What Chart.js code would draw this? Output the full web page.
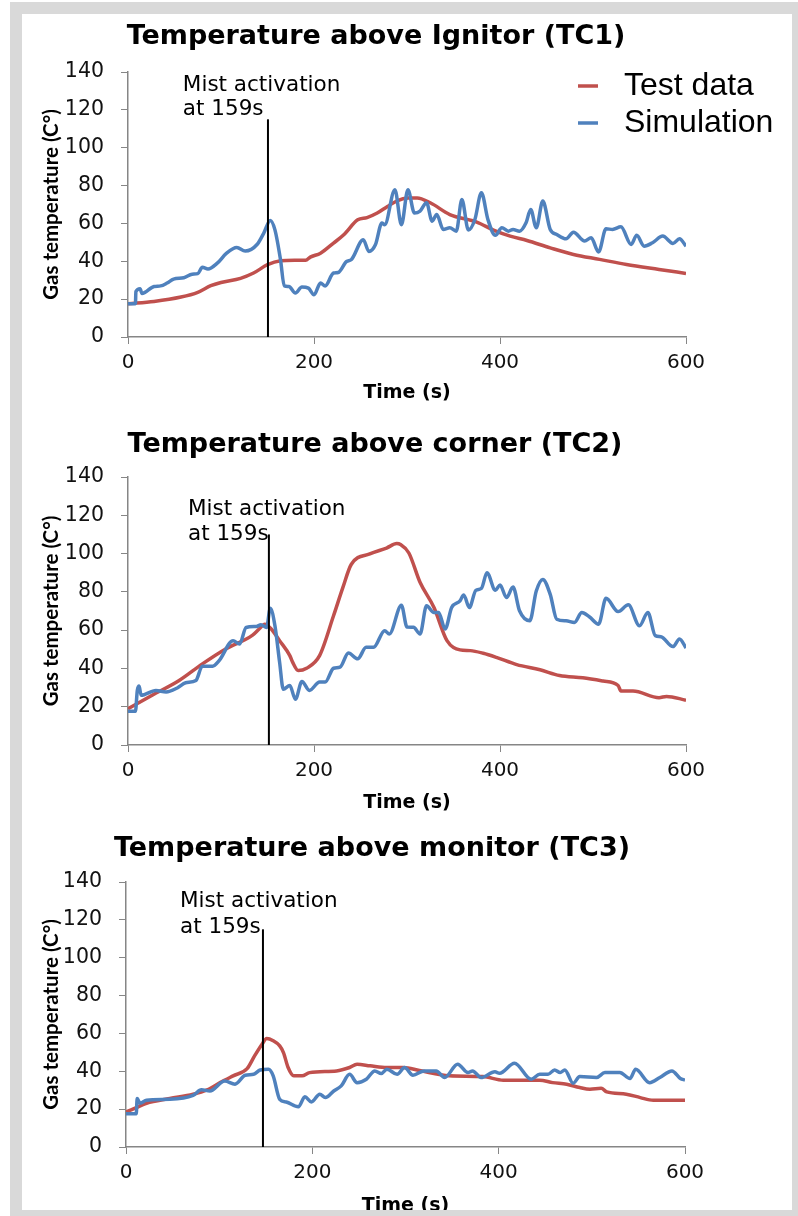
<!DOCTYPE html>
<html><head><meta charset="utf-8">
<script src="https://cdn.jsdelivr.net/npm/chart.js@4.4.1/dist/chart.umd.min.js"></script>
<style>
html,body{margin:0;padding:0;background:#fff;width:798px;height:1216px;overflow:hidden;}
#frame{position:absolute;left:10px;top:2px;width:788px;height:1214px;background:#d9d9d9;}
#inner{position:absolute;left:22px;top:14px;width:770px;height:1196px;background:#fff;overflow:hidden;}
canvas{position:absolute;left:0;}
</style></head>
<body>
<div id="frame"></div>
<div id="inner">
  <canvas id="c1" width="770" height="393" style="top:0px"></canvas>
  <canvas id="c2" width="770" height="407" style="top:396px"></canvas>
  <canvas id="c3" width="770" height="402" style="top:804px"></canvas>
</div>
<script>
// ---------- DATA ----------
const seriesNames = ['Test data', 'Simulation'];
const xTicks = [0, 200, 400, 600];
const yTicks = [0, 20, 40, 60, 80, 100, 120, 140];

// TC1 - Temperature above Ignitor
const tc1TestTime = [0, 28, 57, 75, 89, 100, 121, 135, 150, 164, 179, 191, 196, 207, 221, 232, 247, 257, 268, 279, 290, 301, 311, 325, 346, 375, 393, 411, 429, 454, 479, 507, 536, 571, 600];
const tc1TestTemp = [17.6, 18.8, 21.1, 23.6, 27.1, 28.8, 31.0, 33.8, 38.2, 40.3, 40.6, 40.5, 42.2, 44.3, 49.6, 54.0, 61.9, 63.1, 65.5, 69.0, 72.1, 73.4, 73.5, 70.9, 64.7, 60.7, 56.5, 53.3, 51.0, 47.1, 43.6, 41.0, 38.3, 35.7, 33.6];
const tc1SimTime = [0, 8, 8.5, 13, 15, 28, 35, 42, 49, 60, 69, 75, 80, 86, 96, 106, 117, 126, 139, 146, 153, 158, 164, 168, 173, 180, 187, 194, 200, 207, 212, 221, 226, 235, 240, 253, 259, 266, 273, 276, 287, 294, 301, 308, 314, 321, 327, 332, 339, 346, 353, 359, 366, 373, 380, 387, 395, 402, 409, 414, 421, 428, 433, 439, 446, 454, 461, 471, 479, 491, 498, 506, 514, 521, 530, 541, 547, 555, 564, 575, 586, 593, 600];
const tc1SimTemp = [17.6, 17.6, 24, 25.5, 23, 26.7, 27, 28.5, 30.6, 31.3, 33.2, 33.5, 36.8, 35.9, 39, 44.3, 47.3, 45.4, 49, 54.9, 61.6, 56.6, 40.8, 27, 26.7, 23.2, 26.4, 25.8, 22.3, 28.5, 27, 33.8, 34.1, 39.9, 40.8, 51.4, 45.2, 48.7, 60.2, 59.3, 77.8, 59.3, 77.8, 65.5, 66.5, 70.9, 61.2, 64.7, 56.8, 57.7, 55.9, 72.6, 56.5, 62.1, 76.2, 62.1, 53.7, 57.7, 55.9, 56.8, 55.9, 60.3, 67.4, 57.7, 71.8, 56.8, 54.2, 51.9, 55.4, 50.7, 52.4, 44.9, 57.2, 56.8, 58.2, 48.9, 53.7, 48.0, 49.8, 53.3, 49.4, 51.9, 48.0];

// TC2 - Temperature above corner
const tc2TestTime = [0, 26, 55, 80, 105, 134, 141, 147, 154, 163, 174, 177, 183, 192, 206, 221, 231, 240, 260, 278, 289, 293, 302, 314, 329, 343, 357, 368, 382, 396, 418, 443, 464, 489, 511, 527, 530, 543, 571, 579, 600];
const tc2TestTemp = [19.0, 26, 33.7, 42.4, 50.2, 57.4, 60.6, 63.1, 60.6, 54.5, 46.7, 43.3, 38.9, 40.1, 46.7, 67.5, 82.2, 94.3, 99.8, 102.9, 105.2, 104.7, 100.3, 85, 71.8, 54.5, 49.7, 49.3, 47.9, 45.8, 42.0, 39.3, 36.3, 35.1, 33.4, 31.1, 28.2, 28.2, 24.7, 25.4, 23.4];
const tc2SimTime = [0, 8, 10, 12, 14, 30, 41, 53, 62, 73, 80, 91, 98, 113, 120, 127, 138, 143, 149, 153, 158, 163, 167, 174, 180, 187, 195, 206, 212, 221, 228, 237, 247, 256, 264, 276, 281, 294, 300, 307, 314, 321, 329, 334, 341, 348, 357, 361, 367, 374, 380, 386, 395, 400, 407, 414, 421, 432, 439, 446, 454, 461, 471, 480, 488, 496, 506, 514, 527, 538, 550, 559, 567, 573, 586, 593, 600];
const tc2SimTemp = [17.6, 17.6, 28.5, 30.8, 26, 28.5, 27.7, 29.8, 32.5, 33.7, 41.2, 41.2, 44.1, 54.5, 52.8, 61.4, 61.9, 62.8, 61.4, 71.5, 62.3, 43.3, 29.1, 31.1, 23.9, 33.2, 28.5, 32.9, 32.9, 40.1, 40.7, 48.1, 45.0, 51.0, 51.0, 59.7, 58.0, 73.0, 61.6, 61.5, 58.0, 72.7, 69.2, 69.2, 60.6, 71.8, 75.3, 78.4, 71.8, 80.8, 81.8, 90.0, 80.8, 83.6, 77.0, 82.5, 70.1, 64.9, 80.4, 86.5, 78.7, 65.7, 64.9, 64.0, 69.2, 67.0, 63.1, 76.6, 69.7, 73.2, 62.3, 69.2, 57.1, 56.6, 51.4, 55.4, 50.7];

// TC3 - Temperature above monitor
const tc3TestTime = [0, 11, 22, 47, 72, 87, 101, 115, 130, 138, 146, 151, 158, 165, 169, 174, 180, 189, 197, 226, 240, 248, 262, 280, 298, 315, 347, 383, 405, 444, 458, 473, 487, 498, 510, 516, 537, 552, 566, 600];
const tc3TestTemp = [18.5, 20.8, 23.1, 25.6, 27.9, 30.2, 34.0, 37.6, 41.4, 48.1, 54.3, 57.3, 56.1, 53.4, 49.9, 42.0, 37.6, 37.6, 39.3, 40.2, 42.0, 43.7, 42.9, 42.0, 42.0, 40.4, 37.6, 37.2, 35.3, 35.3, 34.0, 33.2, 31.4, 30.5, 31.0, 29.1, 27.9, 26.1, 24.7, 24.7];
const tc3SimTime = [0, 11, 12, 15, 22, 47, 72, 81, 90, 106, 117, 128, 137, 144, 153, 158, 165, 172, 185, 192, 199, 208, 214, 223, 231, 240, 248, 258, 267, 274, 280, 291, 299, 308, 320, 333, 342, 356, 367, 372, 381, 396, 401, 417, 435, 444, 453, 460, 466, 471, 480, 487, 505, 514, 530, 541, 547, 562, 573, 586, 595, 600];
const tc3SimTemp = [17.6, 17.6, 25.6, 23.1, 24.7, 25.2, 27.3, 30.2, 29.6, 34.9, 33.2, 37.9, 38.4, 40.7, 41.1, 37.6, 25.2, 23.8, 21.2, 26.5, 23.8, 27.9, 26.1, 29.6, 32.3, 38.4, 34.0, 35.8, 40.2, 38.8, 41.1, 38.4, 42.0, 37.9, 40.2, 40.2, 36.7, 43.7, 39.3, 40.2, 36.7, 39.7, 39.0, 44.3, 35.8, 38.4, 38.4, 40.7, 39.3, 40.7, 33.7, 37.2, 36.7, 39.3, 39.3, 36.2, 41.1, 34.0, 36.7, 40.2, 36.2, 35.4];

// Mist activation marker (data units: time, temperature)
const mistLabel = ['Mist activation', 'at 159s'];
const mistLineTime = [150.5, 151.5, 147];
const mistLineTop = [115, 110, 115];

// ---------- STYLE / LAYOUT ----------
const RED = '#C0504D', BLUE = '#4F81BD', AXIS = '#868686';
const WIDE = '"DejaVu Sans", sans-serif';
const NARROW = 'Lato, sans-serif';

function pairs(t, v){ return t.map((x,i)=>({x:x, y:v[i]})); }

const decor = {
  id: 'decor',
  afterDraw(chart, args, o){
    const ctx = chart.ctx, xs = chart.scales.x, ys = chart.scales.y;
    ctx.save();
    ctx.fillStyle = '#000';
    ctx.textBaseline = 'middle';
    ctx.textAlign = 'center';
    ctx.font = 'bold ' + o.titleSize + 'px ' + WIDE;
    ctx.fillText(o.title, o.titleX, o.titleY);
    ctx.textAlign = 'left';
    ctx.font = o.noteSize + 'px ' + WIDE;
    mistLabel.forEach((t,i)=>ctx.fillText(t, xs.getPixelForValue(o.noteX), ys.getPixelForValue(o.noteY[i])));
    if (o.legend){
      ctx.font = '32px "Liberation Sans", Arial, sans-serif';
      seriesNames.forEach((name,i)=>{
        const ds = chart.data.datasets.find(d=>d.label===name);
        const y = o.legend.y[i];
        ctx.strokeStyle = ds.borderColor; ctx.lineWidth = 3.5;
        ctx.beginPath(); ctx.moveTo(o.legend.x, y); ctx.lineTo(o.legend.x + 20, y); ctx.stroke();
        ctx.fillText(name, o.legend.x + 46, y);
      });
    }
    ctx.restore();
  }
};

function makeChart(id, test, sim, idx, L){
  const ctx = document.getElementById(id);
  return new Chart(ctx, {
    type: 'line',
    data: {
      datasets: [
        {label: 'mist', data: [{x: mistLineTime[idx], y: 0}, {x: mistLineTime[idx], y: mistLineTop[idx]}], borderColor: '#000', borderWidth: 2, pointRadius: 0, tension: 0},
        {label: seriesNames[1], data: sim, borderColor: BLUE, borderWidth: 3.5, pointRadius: 0, cubicInterpolationMode: 'monotone'},
        {label: seriesNames[0], data: test, borderColor: RED, borderWidth: 3.5, pointRadius: 0, cubicInterpolationMode: 'monotone'}
      ]
    },
    plugins: [decor],
    options: {
      responsive: false, animation: false,
      layout: {padding: {top: L.top, right: L.right, left: 0, bottom: 0}},
      plugins: {
        legend: {display: false}, tooltip: {enabled: false}, title: {display: false},
        decor: L.decor
      },
      scales: {
        x: {
          type: 'linear', min: 0, max: 600,
          afterBuildTicks: s => { s.ticks = xTicks.map(v=>({value: v})); },
          afterFit: s => { s.height = L.xH; },
          grid: {drawOnChartArea: false, drawTicks: true, tickLength: 7, color: AXIS},
          border: {color: AXIS, width: 1.5},
          ticks: {font: {family: WIDE, size: 20}, color: '#111', padding: 7, maxRotation: 0},
          title: {display: true, text: 'Time (s)', font: {family: WIDE, size: 19, weight: 'bold'}, color: '#000', padding: {top: 0, bottom: 3}}
        },
        y: {
          min: 0, max: 140,
          afterBuildTicks: s => { s.ticks = yTicks.map(v=>({value: v})); },
          afterFit: s => { s.width = L.yW; },
          grid: {drawOnChartArea: false, drawTicks: true, tickLength: 7, color: AXIS},
          border: {color: AXIS, width: 1.5},
          ticks: {font: {family: WIDE, size: 20.5}, color: '#111', padding: 17},
          title: {display: true, text: 'Gas temperature (C°)', font: {family: NARROW, size: 20.5, weight: 'bold'}, color: '#000', padding: {top: 17, bottom: 0}}
        }
      }
    }
  });
}

makeChart('c1', pairs(tc1TestTime, tc1TestTemp), pairs(tc1SimTime, tc1SimTemp), 0, {
  top: 58, right: 106, yW: 106, xH: 70,
  decor: {title: 'Temperature above Ignitor (TC1)', titleX: 354, titleY: 23, titleSize: 27, noteSize: 21.5, noteX: 59, noteY: [133, 120], legend: {x: 556, y: [72, 109]}}
});
makeChart('c2', pairs(tc2TestTime, tc2TestTemp), pairs(tc2SimTime, tc2SimTemp), 1, {
  top: 67, right: 106, yW: 106, xH: 72,
  decor: {title: 'Temperature above corner (TC2)', titleX: 353, titleY: 35, titleSize: 27, noteSize: 21.5, noteX: 64.5, noteY: [123, 110]}
});
makeChart('c3', pairs(tc3TestTime, tc3TestTemp), pairs(tc3SimTime, tc3SimTemp), 2, {
  top: 64, right: 107, yW: 104, xH: 73,
  decor: {title: 'Temperature above monitor (TC3)', titleX: 350, titleY: 31, titleSize: 27, noteSize: 21.5, noteX: 58, noteY: [129.5, 116]}
});
</script>
</body></html>
